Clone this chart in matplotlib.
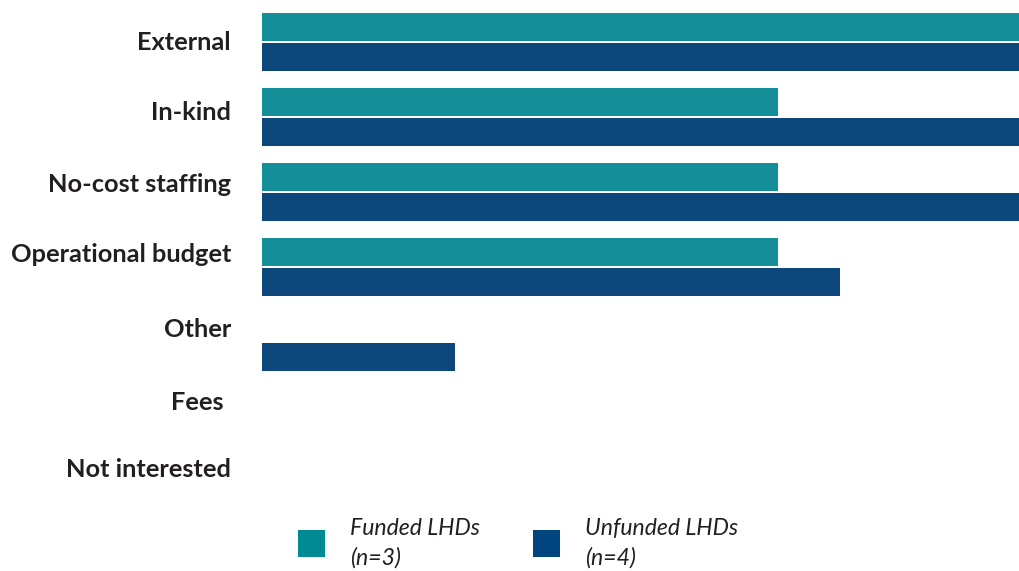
import matplotlib
matplotlib.use("Agg")
import matplotlib.pyplot as plt
from matplotlib.patches import Rectangle

categories = ["External", "In-kind", "No-cost staffing", "Operational budget",
              "Other", "Fees", "Not interested"]
funded = [100, 67, 67, 67, 0, 0, 0]
unfunded = [100, 100, 100, 75, 25, 0, 0]
series_labels = ["Funded LHDs\n(n=3)", "Unfunded LHDs\n(n=4)"]

TEAL = "#148E98"
NAVY = "#0C477C"
TEAL_LEG = "#008A93"
NAVY_LEG = "#00457E"
TXT = "#231F20"

W, H = 1019, 571
fig = plt.figure(figsize=(W / 100, H / 100), dpi=100)

ax_left, ax_right, ax_top, ax_bot = 262.0, 1019, 0, 530
ax = fig.add_axes([ax_left / W, 1 - ax_bot / H, (ax_right - ax_left) / W, (ax_bot - ax_top) / H])
ax.set_xlim(0, 98.25)
ax.set_ylim((530 - 42) / 75, -42 / 75)
ax.axis("off")

ys = list(range(len(categories)))
bh = 28 / 75
off = 15 / 75
ax.barh([y - off for y in ys], funded, height=bh, color=TEAL, linewidth=0)
ax.barh([y + off for y in ys], unfunded, height=bh, color=NAVY, linewidth=0)

# category labels (placed separately as in the reference)
baselines = [50, 120, 192, 262, 337, 410, 477]
for i, (lab, b) in enumerate(zip(categories, baselines)):
    xr = 224 if lab == "Fees" else 231
    fig.text(xr / W, 1 - b / H, lab, ha="right", va="baseline",
             fontsize=18.3, fontweight="bold", family="Lato", color=TXT)

# legend
for (sx, tx, col, lab) in [(298, 350, TEAL_LEG, series_labels[0]),
                           (533, 585, NAVY_LEG, series_labels[1])]:
    fig.patches.append(Rectangle((sx / W, 1 - 557 / H), 27 / W, 27 / H,
                                 transform=fig.transFigure, color=col, linewidth=0))
    l1, l2 = lab.split("\n")
    fig.text(tx / W, 1 - 535 / H, l1, ha="left", va="baseline", fontsize=16.6,
             style="italic", family="Lato", color=TXT)
    fig.text(tx / W, 1 - 565 / H, l2, ha="left", va="baseline", fontsize=16.6,
             style="italic", family="Lato", color=TXT)

fig.savefig("out.png", dpi=100)
